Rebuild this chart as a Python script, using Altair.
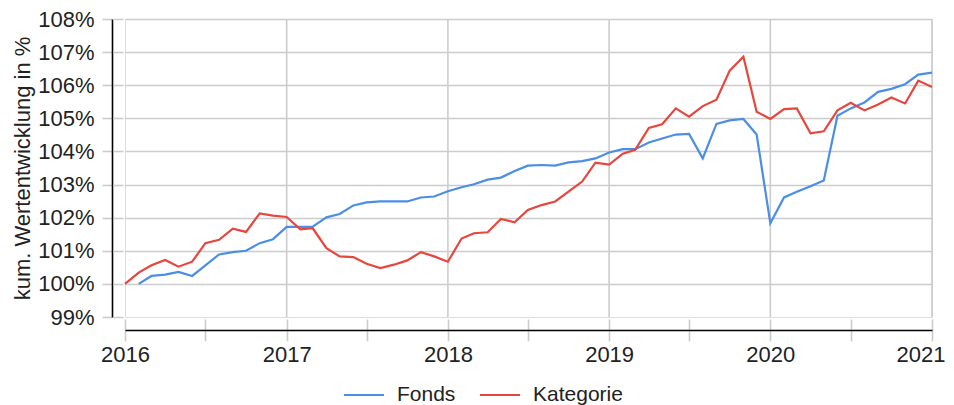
import altair as alt
import pandas as pd

# ---- data ----
series_names = ["Fonds", "Kategorie"]
series_colors = ["#4a8ee6", "#e8453c"]

years = [2016, 2017, 2018, 2019, 2020]

fonds_2016 = [None, 100.00, 100.24, 100.28, 100.36, 100.24, 100.56, 100.89, 100.96, 101.00, 101.23, 101.35]
fonds_2017 = [101.72, 101.72, 101.73, 102.01, 102.11, 102.37, 102.46, 102.49, 102.49, 102.49, 102.61, 102.64]
fonds_2018 = [102.80, 102.92, 103.01, 103.15, 103.21, 103.41, 103.57, 103.59, 103.57, 103.67, 103.71, 103.79]
fonds_2019 = [103.97, 104.07, 104.07, 104.27, 104.39, 104.51, 104.53, 103.79, 104.83, 104.94, 104.98, 104.51]
fonds_2020 = [101.83, 102.61, 102.78, 102.95, 103.12, 105.08, 105.30, 105.48, 105.80, 105.89, 106.03, 106.32]
fonds_2021 = [106.38]

kat_2016 = [100.00, 100.34, 100.56, 100.72, 100.52, 100.67, 101.23, 101.33, 101.67, 101.57, 102.13, 102.06]
kat_2017 = [102.02, 101.65, 101.68, 101.08, 100.83, 100.81, 100.61, 100.48, 100.58, 100.71, 100.96, 100.83]
kat_2018 = [100.67, 101.37, 101.53, 101.56, 101.96, 101.86, 102.23, 102.38, 102.49, 102.79, 103.09, 103.66]
kat_2019 = [103.60, 103.93, 104.05, 104.71, 104.82, 105.30, 105.05, 105.37, 105.56, 106.44, 106.86, 105.20]
kat_2020 = [104.98, 105.28, 105.30, 104.55, 104.61, 105.24, 105.47, 105.24, 105.42, 105.63, 105.45, 106.14]
kat_2021 = [105.95]

y_ticks = [99, 100, 101, 102, 103, 104, 105, 106, 107, 108]
grid_years = ["2017-01-01", "2018-01-01", "2019-01-01", "2020-01-01", "2021-01-01"]

# ---- build table ----
dates = [f"{y}-{m:02d}-01" for y in years for m in range(1, 13)] + ["2021-01-01"]
fonds = fonds_2016 + fonds_2017 + fonds_2018 + fonds_2019 + fonds_2020 + fonds_2021
kat = kat_2016 + kat_2017 + kat_2018 + kat_2019 + kat_2020 + kat_2021

rows = []
for d, v in zip(dates, fonds):
    if v is not None:
        rows.append({"date": d, "series": "Fonds", "value": v})
for d, v in zip(dates, kat):
    rows.append({"date": d, "series": "Kategorie", "value": v})
df = pd.DataFrame(rows)
grid_df = pd.DataFrame({"date": grid_years})

FONT = "Liberation Sans"
GRID = "#cccccc"
TXT = "#222222"

half_years = [alt.DateTime(year=y, month=m, date=1, utc=True) for y in years for m in (1, 7)] + [
    alt.DateTime(year=2021, month=1, date=1, utc=True)
]

xscale = alt.Scale(
    type="utc",
    domain=[alt.DateTime(year=2016, month=1, date=1, utc=True), alt.DateTime(year=2021, month=1, date=1, utc=True)],
)
yscale = alt.Scale(domain=[99, 108], nice=False, zero=False)
cscale = alt.Scale(domain=series_names, range=series_colors)

last_label = "utcyear(datum.value) == 2021"

x_main = alt.Axis(
    orient="bottom", values=half_years, offset=13, tickSize=11, tickColor=GRID, tickWidth=1.6,
    domainColor="#000000", domainWidth=1.6, grid=False, labelPadding=3, labelFontSize=22,
    labelColor=TXT, labelFont=FONT, labelFlush=False, labelOverlap=False, title=None,
    labelAlign={"condition": {"test": last_label, "value": "right"}, "value": "center"},
    labelOffset={"condition": {"test": last_label, "value": 13}, "value": 0},
    labelExpr="utcmonth(datum.value) == 0 ? utcFormat(datum.value, '%Y') : ''",
)
x_inner = alt.Axis(
    orient="bottom", values=half_years, offset=2, tickSize=11, tickColor=GRID, tickWidth=1.6,
    domain=False, labels=False, grid=False, title=None,
)
y_main = alt.Axis(
    orient="left", values=y_ticks, offset=13, tickSize=10, tickColor=GRID, tickWidth=1.6,
    domainColor="#000000", domainWidth=1.6, grid=True,
    gridColor={"condition": {"test": "datum.value == 99", "value": "transparent"}, "value": GRID},
    gridWidth=1.6, labelPadding=8, labelFontSize=22, labelColor=TXT, labelFont=FONT,
    labelExpr="datum.value + '%'", title="kum. Wertentwicklung in %", titleFontSize=22,
    titleFont=FONT, titleFontWeight="normal", titleColor=TXT, titlePadding=3,
)
y_inner = alt.Axis(
    orient="left", values=y_ticks, offset=2, tickSize=10, tickColor=GRID, tickWidth=1.6,
    domain=False, labels=False, grid=False, title=None,
)

legend = alt.Legend(
    orient="none", legendX=218, legendY=355, direction="horizontal", title=None,
    symbolType="stroke", symbolSize=1600, symbolStrokeWidth=2, labelFontSize=21,
    labelFont=FONT, labelColor=TXT, labelOffset=12, columnPadding=20,
)

rules = alt.Chart(grid_df).mark_rule(color=GRID, strokeWidth=1.6).encode(
    x=alt.X("date:T", axis=None, scale=xscale)
)

fonds_layer = (
    alt.Chart(df)
    .transform_filter("datum.series == 'Fonds'")
    .mark_line(strokeWidth=2.2)
    .encode(
        x=alt.X("date:T", axis=x_inner, scale=xscale),
        y=alt.Y("value:Q", axis=y_main, scale=yscale),
        color=alt.Color("series:N", scale=cscale, legend=legend),
    )
)

kat_layer = (
    alt.Chart(df)
    .transform_filter("datum.series == 'Kategorie'")
    .mark_line(strokeWidth=2.2)
    .encode(
        x=alt.X("date:T", axis=x_main, scale=xscale),
        y=alt.Y("value:Q", axis=y_inner, scale=yscale),
        color=alt.Color("series:N", scale=cscale, legend=legend),
    )
)

chart = (
    alt.layer(rules, fonds_layer, kat_layer)
    .resolve_axis(x="independent", y="independent")
    .properties(
        width=807,
        height=298,
        padding={"left": 117, "top": 11, "right": 14, "bottom": 88},
        autosize=alt.AutoSizeParams(type="none"),
    )
    .configure_view(stroke=None)
    .configure(font=FONT)
)

chart.save("out.html", embed_options={"renderer": "svg", "actions": False})
